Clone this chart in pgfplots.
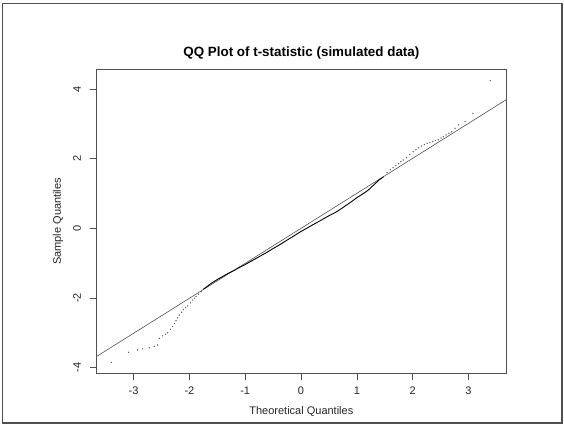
\documentclass[border=0pt]{standalone}
\usepackage{pgfplots}
\pgfplotsset{compat=1.18}
\usepackage{fontspec}
\setmainfont{Liberation Sans}
\definecolor{axgray}{HTML}{505050}
\begin{document}
\begin{tikzpicture}
\path (0pt,0pt) rectangle (564pt,424pt);
\draw[axgray, line width=1.5pt] (2.5pt,1pt) rectangle (562pt,420.5pt);
\begin{axis}[
  at={(96pt,50.5pt)}, anchor=south west,
  scale only axis, width=410.7pt, height=304.2pt,
  xmin=-3.674, xmax=3.686, ymin=-4.169, ymax=4.565,
  axis line style={axgray, line width=0.6pt},
  tick style={axgray, line width=0.6pt},
  tick align=outside, major tick length=6pt,
  xtick={-3,-2,-1,0,1,2,3}, ytick={-4,-2,0,2,4},
  xtick pos=bottom, ytick pos=left,
  /pgf/number format/assume math mode=true,
  tick label style={font=\fontsize{11}{13}\selectfont, text=black!85},
  xticklabel style={anchor=center, yshift=-11pt},
  yticklabel style={rotate=90, anchor=center, yshift=13pt},
  xlabel={Theoretical Quantiles}, ylabel={Sample Quantiles},
  label style={font=\fontsize{11}{13}\selectfont, text=black!85},
  xlabel style={at={(axis description cs:0.5,0)}, anchor=center, yshift=-38pt},
  ylabel style={at={(axis description cs:0,0.5)}, anchor=center, rotate=0, yshift=38pt},
  title={QQ Plot of t-statistic (simulated data)},
  title style={font=\bfseries\fontsize{13.4}{15}\selectfont, at={(axis description cs:0.5,1)}, anchor=center, yshift=10pt},
  clip=true,
]
% qqline
\addplot[axgray, line width=0.6pt] coordinates {(-3.674,-3.69) (3.686,3.70)};
% dense central part of the sample quantiles
\addplot[black, line width=0.9pt, mark=none] coordinates {
(-1.75,-1.75) (-1.70,-1.69) (-1.60,-1.57) (-1.50,-1.47) (-1.40,-1.38) (-1.30,-1.29)
(-1.20,-1.21) (-1.10,-1.12) (-1.00,-1.04) (-0.90,-0.95) (-0.80,-0.86) (-0.70,-0.77)
(-0.60,-0.68) (-0.50,-0.58) (-0.40,-0.49) (-0.30,-0.39) (-0.20,-0.29) (-0.10,-0.19)
(0.00,-0.09) (0.10,0.00) (0.20,0.09) (0.30,0.18) (0.40,0.27) (0.50,0.36)
(0.60,0.44) (0.70,0.54) (0.80,0.65) (0.90,0.76) (1.00,0.88) (1.10,0.98)
(1.20,1.09) (1.30,1.24) (1.40,1.39) (1.48,1.48)
};
% tails of the sample quantiles
\addplot[only marks, mark=*, mark size=0.4pt, black!65] coordinates {
(-3.40,-3.85) (-3.09,-3.56) (-2.93,-3.49) (-2.84,-3.46) (-2.72,-3.43) (-2.63,-3.39)
(-2.57,-3.35) (-2.54,-3.16) (-2.48,-3.09) (-2.43,-3.04) (-2.39,-3.00) (-2.34,-2.90)
(-2.30,-2.82) (-2.27,-2.73) (-2.24,-2.65) (-2.21,-2.57) (-2.18,-2.49) (-2.14,-2.41)
(-2.11,-2.33) (-2.07,-2.28) (-2.03,-2.23) (-1.98,-2.14) (-1.94,-2.06) (-1.91,-2.01)
(-1.88,-1.96) (-1.84,-1.89) (-1.79,-1.82)
(1.54,1.60) (1.60,1.68) (1.65,1.74) (1.70,1.80) (1.75,1.86) (1.79,1.91) (1.83,1.96)
(1.89,2.03) (1.95,2.12) (2.01,2.20) (2.06,2.26) (2.11,2.31) (2.16,2.36) (2.21,2.40)
(2.26,2.44) (2.31,2.46) (2.36,2.49) (2.41,2.52) (2.46,2.54) (2.51,2.59) (2.55,2.63)
(2.60,2.68) (2.65,2.73) (2.70,2.77) (2.76,2.87) (2.82,2.97) (2.94,3.06) (3.08,3.30)
(3.39,4.24)
};
\end{axis}
\end{tikzpicture}
\end{document}
